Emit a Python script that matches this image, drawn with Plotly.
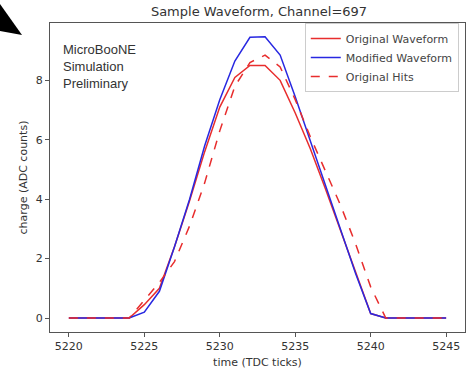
import plotly.graph_objects as go

# time ticks
t = list(range(5220, 5246))

original_waveform = [0, 0, 0, 0, 0, 0.45, 1.0, 2.4, 3.95, 5.6, 7.1, 8.1, 8.5, 8.5, 8.0, 6.9,
                     5.7, 4.35, 2.95, 1.55, 0.15, 0, 0, 0, 0, 0]
modified_waveform = [0, 0, 0, 0, 0, 0.2, 0.9, 2.4, 4.0, 5.8, 7.35, 8.65, 9.45, 9.47, 8.85, 7.45,
                     5.95, 4.5, 3.0, 1.5, 0.15, 0, 0, 0, 0, 0]
original_hits = [0, 0, 0, 0, 0, 0.6, 1.2, 1.9, 3.1, 4.55, 6.3, 7.8, 8.6, 8.85, 8.45, 7.35,
                 6.1, 4.95, 3.8, 2.5, 1.05, 0, 0, 0, 0, 0]

x_ticks = [5220, 5225, 5230, 5235, 5240, 5245]
y_ticks = [0, 2, 4, 6, 8]

W, H = 468, 370
L, R, T, B = 50, 3, 23, 38

RED = "rgb(232,45,45)"
BLUE = "rgb(40,40,225)"

fig = go.Figure()
fig.add_trace(go.Scatter(x=t, y=original_waveform, mode="lines", name="Original Waveform",
                         line=dict(color=RED, width=1.5)))
fig.add_trace(go.Scatter(x=t, y=modified_waveform, mode="lines", name="Modified Waveform",
                         line=dict(color=BLUE, width=1.5)))
fig.add_trace(go.Scatter(x=t, y=original_hits, mode="lines", name="Original Hits",
                         line=dict(color=RED, width=1.5, dash="dash")))

axis_common = dict(showgrid=False, zeroline=False, showline=True, linecolor="#555",
                   linewidth=1.2, mirror=True, ticks="outside", ticklen=4, tickcolor="#555",
                   tickfont=dict(family="DejaVu Sans", size=11, color="#333"))

fig.update_xaxes(range=[5218.75, 5246.25], tickvals=x_ticks,
                 title=dict(text="time (TDC ticks)", font=dict(family="DejaVu Sans", size=11, color="#333"),
                            standoff=6),
                 **axis_common)
fig.update_yaxes(range=[-0.47, 9.93], tickvals=y_ticks,
                 title=dict(text="charge (ADC counts)", font=dict(family="DejaVu Sans", size=11, color="#333"),
                            standoff=5),
                 **axis_common)

pw, ph = W - L - R, H - T - B


def px(x, y):
    return (x - L) / pw, (H - B - y) / ph


pts = [px(0, 4), px(22, 35), px(0, 31)]
path = "M " + " L ".join(f"{a},{b}" for a, b in pts) + " Z"

fig.update_layout(
    width=W, height=H,
    margin=dict(l=L, r=R, t=T, b=B),
    paper_bgcolor="white", plot_bgcolor="white",
    title=dict(text="Sample Waveform, Channel=697", x=259 / W, xanchor="center",
               y=1 - 11 / H, yanchor="middle",
               font=dict(family="DejaVu Sans", size=13, color="#333")),
    legend=dict(x=0.985, y=1.0, xanchor="right", yanchor="top",
                bgcolor="rgba(255,255,255,0.9)", bordercolor="#ccc", borderwidth=1,
                font=dict(family="DejaVu Sans", size=11, color="#444"),
                tracegroupgap=0, itemwidth=30),
    showlegend=True,
    shapes=[dict(type="path", xref="paper", yref="paper", path=path,
                 fillcolor="black", line=dict(width=0))],
    annotations=[dict(text="MicroBooNE<br>Simulation<br>Preliminary", xref="paper", yref="paper",
                      x=px(61, 0)[0], y=px(0, 40)[1], xanchor="left", yanchor="top", align="left",
                      showarrow=False,
                      font=dict(family="Liberation Sans", size=13, color="#333"))],
)

fig.write_html("out.html")
